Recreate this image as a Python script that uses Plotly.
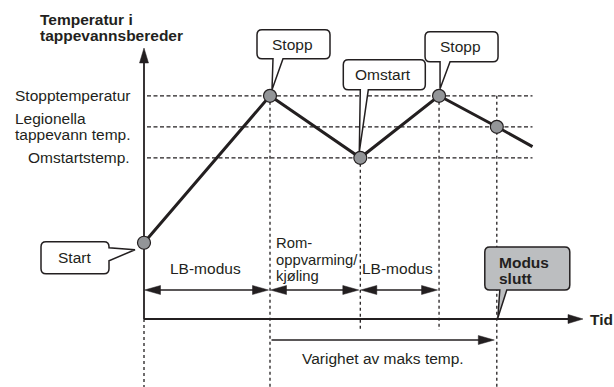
import plotly.graph_objects as go

# sketched tank temperature curve (arbitrary time / temperature units)
curve_time = [0, 60, 103, 140.5, 168, 185]
curve_temp = [12.3, 36, 26, 36, 31, 27.8]
point_count = 5  # last vertex is only where the line runs off

level_names = ["Stopptemperatur", "Legionella<br>tappevann temp.", "Omstartstemp."]
level_temps = [36, 31, 26]

phase_edges = [0, 60, 103, 140.5]
phase_names = ["LB-modus", "Rom-<br>oppvarming/<br>kjøling", "LB-modus"]

maxtemp_span = [60, 168]
maxtemp_label = "Varighet av maks temp."

callout_labels = ["Start", "Stopp", "Omstart", "Stopp", "Modus<br>slutt"]

y_title = "Temperatur i<br>tappevannsbereder"
x_title = "Tid"

# layout constants (pixels)
W, H = 614, 387
X0, Y0 = 144, 319      # where the origin sits
KX, KY = 2.1, 6.2      # pixels per unit
INK = "#231f20"
GREY = "#939598"
FONT = "Arial, Liberation Sans, sans-serif"
FS = 15.5


def to_t(x):
    return (x - X0) / KX


def to_T(y):
    return (Y0 - y) / KY


def px(t):
    return X0 + KX * t


def py(T):
    return Y0 - KY * T


shapes = []
annos = []


def seg(t0, T0, t1, T1, width=1.5, dash=None, layer="below"):
    shapes.append(dict(type="line", xref="x", yref="y", x0=t0, y0=T0, x1=t1, y1=T1,
                       line=dict(color=INK, width=width, dash=dash), layer=layer))


def head(tx, ty, ux, uy, length=15, half=4.5):
    # filled triangle, built in pixel space then mapped to data
    bx, by = tx - ux * length, ty - uy * length
    nx, ny = -uy, ux
    pts = [(tx, ty), (bx + nx * half, by + ny * half), (bx - nx * half, by - ny * half)]
    path = "M " + " L ".join(f"{to_t(x):.3f},{to_T(y):.3f}" for x, y in pts) + " Z"
    shapes.append(dict(type="path", xref="x", yref="y", path=path, fillcolor=INK,
                       line=dict(color=INK, width=0.5), layer="below"))


def text(x, y, s, anchor="center", bold=False, size=FS):
    annos.append(dict(x=to_t(x), y=to_T(y), xref="x", yref="y",
                      text=f"<b>{s}</b>" if bold else s, showarrow=False,
                      xanchor=anchor, yanchor="middle",
                      font=dict(family=FONT, size=size, color=INK)))


# axes with arrow heads
seg(0, 0, to_t(583 - 10), 0, width=1.8)
head(583, Y0, 1, 0)
seg(0, 0, 0, to_T(48 + 10), width=1.8)
head(X0, 48, 0, -1)

# level guides
for T in level_temps:
    seg(to_t(147), T, curve_time[-1], T, width=1.3, dash="4px,2.5px")

# vertical guides
seg(0, 0, 0, to_T(H), width=1.3, dash="3px,3px")
for t, T in zip(curve_time[1:4], curve_temp[1:4]):
    bottom = H if t in maxtemp_span else 330
    seg(t, T, t, to_T(bottom), width=1.3, dash="3px,3px")
seg(maxtemp_span[1], max(level_temps), maxtemp_span[1], to_T(H), width=1.3, dash="3px,3px")

# phase arrows
ARROW_Y = Y0 - 29
for a, b in zip(phase_edges[:-1], phase_edges[1:]):
    xa, xb = px(a) + 0.5, px(b) - 1.5
    seg(to_t(xa + 10), to_T(ARROW_Y), to_t(xb - 10), to_T(ARROW_Y), width=1.5)
    head(xa, ARROW_Y, -1, 0, 16, 4.5)
    head(xb, ARROW_Y, 1, 0, 16, 4.5)

for (a, b), name in zip(zip(phase_edges[:-1], phase_edges[1:]), phase_names):
    lines = name.split("<br>")
    if len(lines) == 1:
        text((px(a) + px(b)) / 2 - 2, Y0 - 51, name)
    else:
        for i, ln in enumerate(lines):
            text(px(a) + 4, 243 + 16.5 * i, ln, anchor="left", size=14.8)

# duration arrow
DUR_Y = Y0 + 21
xa, xb = px(maxtemp_span[0]) + 1.5, px(maxtemp_span[1]) - 2.5
seg(to_t(xa), to_T(DUR_Y), to_t(xb - 10), to_T(DUR_Y), width=1.5)
head(xb, DUR_Y, 1, 0, 16, 4.5)
text((xa + xb) / 2, DUR_Y + 18, maxtemp_label)

# level labels
for name, T in zip(level_names, level_temps):
    lines = name.split("<br>")
    if len(lines) == 1:
        text(132, py(T), name, anchor="right")
    else:
        for i, ln in enumerate(lines):
            text(13, py(T) - 8 + 16 * i, ln, anchor="left")

# axis titles
for i, ln in enumerate(y_title.split("<br>")):
    text(38, 19 + 16 * i, ln, anchor="left", bold=True)
text(588, Y0, x_title, anchor="left", bold=True)

# callouts: box (l, r, top, bottom), tail base and tip, px relative to anchor
callout_geom = [
    dict(box=(-103, -35, -1, 31), side="right", base=(5, 18), tip=(-9, 7)),
    dict(box=(-13, 60, -66, -37), side="bottom", base=(3, 13), tip=(2, -6)),
    dict(box=(-17, 65, -98, -68), side="bottom", base=(0, 8), tip=(-1, -6)),
    dict(box=(-14, 59, -64, -34), side="bottom", base=(1, 11), tip=(1, -7)),
    dict(box=(-12, 73, -72, -29), side="bottom", base=(3, 10), tip=(1, -1), fill="#bcbec0"),
]
anchors = list(zip(curve_time[:4], curve_temp[:4])) + [(maxtemp_span[1], 0)]


def P(x, y):
    return f"{to_t(x):.3f},{to_T(y):.3f}"


for label, (t, T), g in zip(callout_labels, anchors, callout_geom):
    ax, ay = px(t), py(T)
    l, r, top, bot = ax + g["box"][0], ax + g["box"][1], ay + g["box"][2], ay + g["box"][3]
    tip = (ax + g["tip"][0], ay + g["tip"][1])
    b0, b1 = g["base"]
    rad = 5
    d = f"M {P(l + rad, top)} L {P(r - rad, top)} Q {P(r, top)} {P(r, top + rad)}"
    if g["side"] == "right":
        d += f" L {P(r, ay + b0)} L {P(*tip)} L {P(r, ay + b1)}"
    d += f" L {P(r, bot - rad)} Q {P(r, bot)} {P(r - rad, bot)}"
    if g["side"] == "bottom":
        d += f" L {P(ax + b1, bot)} L {P(*tip)} L {P(ax + b0, bot)}"
    d += f" L {P(l + rad, bot)} Q {P(l, bot)} {P(l, bot - rad)} L {P(l, top + rad)} Q {P(l, top)} {P(l + rad, top)} Z"
    shapes.append(dict(type="path", xref="x", yref="y", path=d, layer="above",
                       fillcolor=g.get("fill", "white"), line=dict(color=INK, width=1.5)))
    lines = label.split("<br>")
    if len(lines) == 1:
        text((l + r) / 2 - 1, (top + bot) / 2, label)
    else:
        for i, ln in enumerate(lines):
            text(l + 12, top + 15 + 16 * i, ln, anchor="left", bold=True)

fig = go.Figure()
fig.add_trace(go.Scatter(x=curve_time, y=curve_temp, mode="lines",
                         line=dict(color=INK, width=3), hoverinfo="skip"))
fig.add_trace(go.Scatter(x=curve_time[:point_count], y=curve_temp[:point_count], mode="markers",
                         marker=dict(size=13, color=GREY, line=dict(color=INK, width=1.2)),
                         hoverinfo="skip"))

fig.update_layout(
    width=W, height=H, autosize=False,
    margin=dict(l=0, r=0, t=0, b=0),
    paper_bgcolor="white", plot_bgcolor="white",
    showlegend=False,
    xaxis=dict(visible=False, range=[to_t(0), to_t(W)], fixedrange=True),
    yaxis=dict(visible=False, range=[to_T(H), to_T(0)], fixedrange=True),
    shapes=shapes, annotations=annos,
)

# the page body has a default 8px margin; drop it so the figure fills the window
fig.write_html("out.html", config={"displayModeBar": False},
               post_script="document.body.style.margin='0';")
